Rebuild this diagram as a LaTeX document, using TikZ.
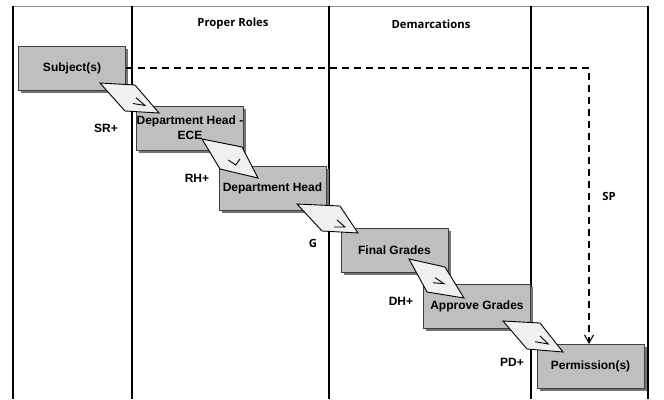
\documentclass[tikz,border=0pt]{standalone}
\usepackage{fontspec}
\setmainfont{Liberation Sans}
\newfontfamily\hdrfont{Open Sans}
\usetikzlibrary{arrows.meta,shadows}
\begin{document}
\begin{tikzpicture}[x=1pt,y=-1pt,
  lane/.style={draw=black, line width=1.2pt},
  topline/.style={draw=black!45, line width=1pt},
  box/.style={draw=black!75, fill=black!25, line width=0.9pt, minimum width=107pt, minimum height=44pt,
    inner sep=0pt, align=center, font=\bfseries\fontsize{12}{15}\selectfont,
    drop shadow={shadow xshift=2.5pt, shadow yshift=-2.5pt, fill=black!55, opacity=1}},
  hdr/.style={font=\hdrfont\bfseries\fontsize{11.3}{13}\selectfont, inner sep=0pt},
  lab/.style={font=\bfseries\fontsize{12}{14}\selectfont, inner sep=0pt},
  gate/.style={draw=black, fill=black!6, line width=0.9pt, line join=miter},
  gatemark/.style={draw=black, line width=0.9pt},
  dashlink/.style={draw=black, line width=1.2pt, dash pattern=on 7pt off 5pt, -{Straight Barb[length=8pt,width=9pt,line width=1.1pt]}}
]
\useasboundingbox (0,0) rectangle (664,399);
% swimlane frame
\draw[topline] (13,6) -- (648,6);
\foreach \x in {13,132,329,531,648} \draw[lane] (\x,6) -- (\x,399);
\node[hdr] (h1) at (233,24) {Proper Roles};
\node[hdr] (h2) at (431,24) {Demarcations};
% boxes
\node[box] (subj) at (72,68) {Subject(s)};
\node[box] (dhece) at (190,128) {Department Head -\\ECE};
\node[box] (dh) at (272.5,188.5) {Department Head};
\node[box] (fg) at (394.5,250.5) {Final Grades};
\node[box] (ag) at (477,306) {Approve Grades};
\node[box] (perm) at (590.5,366.5) {Permission(s)};
% dashed connector
\draw[dashlink] (subj.east) -| ([xshift=-1.5pt]perm.north);
\node[hdr] (sp) at (609,196) {SP};
% gates between boxes
\draw[gate] (100,83) -- (135,85) -- (159,113) -- (125,111) -- cycle;
\draw[gatemark] (136,97.7) -- (145,105.5) -- (133,103.5);
\draw[gate] (202,139) -- (242,147) -- (258,178) -- (220,169) -- cycle;
\draw[gatemark] (228.3,160) -- (235.7,165) -- (240,159);
\draw[gate] (297,204) -- (340,206) -- (358,233) -- (322,231) -- cycle;
\draw[gatemark] (337,220) -- (345,227) -- (334,227);
\draw[gate] (409,259) -- (445,267) -- (464,298) -- (427,292) -- cycle;
\draw[gatemark] (435,277.7) -- (444,283.7) -- (433,282.7);
\draw[gate] (503,321) -- (540,323) -- (563,352) -- (527,349) -- cycle;
\draw[gatemark] (540,336) -- (548.3,344) -- (535,341.7);
% labels
\node[lab] (sr) at (106,128) {SR+};
\node[lab] (rh) at (197,178) {RH+};
\node[hdr] (g) at (313,243) {G};
\node[lab] (dhp) at (401,301) {DH+};
\node[lab] (pd) at (512,362) {PD+};
\end{tikzpicture}
\end{document}
